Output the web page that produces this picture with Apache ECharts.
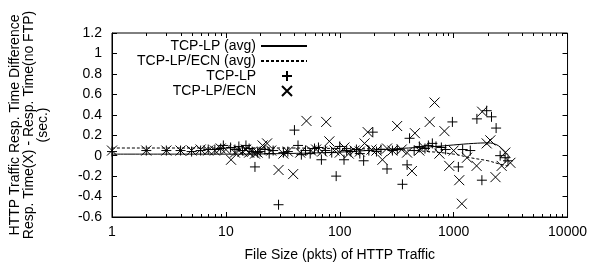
<!DOCTYPE html>
<html>
<head>
<meta charset="utf-8">
<script src="https://cdn.jsdelivr.net/npm/echarts@6/dist/echarts.min.js"></script>
<style>html,body{margin:0;padding:0;background:#fff;}#c{width:590px;height:267px;}</style>
</head>
<body>
<div id="c"></div>
<script>
// ---- data ----
var xTicks = [1, 10, 100, 1000, 10000];
var yTicks = [-0.6, -0.4, -0.2, 0, 0.2, 0.4, 0.6, 0.8, 1, 1.2];

var avgLpX = [1, 3, 10, 30, 100, 200, 400, 700, 1000, 1500, 2000, 2400, 2700, 3000];
var avgLpY = [0.015, 0.015, 0.015, 0.02, 0.035, 0.055, 0.075, 0.09, 0.105, 0.12, 0.125, 0.105, 0.06, 0.01];

var avgEcnX = [1, 10, 30, 100, 300, 600, 1000, 1400, 2000, 2500, 3000];
var avgEcnY = [0.075, 0.075, 0.075, 0.07, 0.06, 0.04, 0.015, -0.02, -0.05, -0.08, -0.10];

var lpX = [1, 2, 3, 4, 5, 6, 7, 8, 9, 9.5, 11, 12, 13, 14, 15, 16, 17, 18, 19, 20, 22, 24, 26, 29, 32, 35, 40, 43, 46, 50, 55, 60, 65, 69, 75, 85, 93, 100, 109, 115, 125, 140, 150, 162, 180, 195, 210, 230, 260, 290, 320, 355, 390, 410, 450, 500, 560, 600, 650, 700, 780, 850, 975, 1100, 1200, 1400, 1600, 1770, 1950, 2150, 2360, 2560, 2830, 3000];
var lpY = [0.04, 0.05, 0.05, 0.05, 0.04, 0.05, 0.06, 0.06, 0.07, 0.10, 0.08, 0.06, 0.09, 0.05, 0.10, 0.07, 0.04, -0.11, 0.03, 0.04, 0.06, 0.02, 0.05, -0.48, 0.03, 0.04, 0.25, 0.10, 0.01, 0.05, 0.02, 0.07, 0.08, -0.04, 0.05, 0.03, -0.20, 0.09, -0.04, 0.05, 0.04, 0.06, 0.02, -0.05, 0.05, 0.23, 0.04, 0.06, -0.13, 0.05, 0.06, -0.28, -0.09, 0.17, 0.05, 0.09, 0.07, 0.10, 0.12, 0.09, 0.08, 0.06, 0.33, -0.11, 0.06, 0.05, 0.36, -0.24, 0.44, 0.38, 0.27, 0.0, -0.02, -0.05];

var ecnX = [1, 2, 3, 4, 5, 6, 7, 8, 9, 10, 11.1, 12, 13, 14, 15, 16, 17, 18, 19, 21, 23, 25, 29, 32, 35, 39, 45, 51, 56, 62, 70, 76, 81, 90, 100, 110, 120, 135, 150, 165, 176, 190, 210, 237, 260, 290, 319, 350, 390, 430, 457, 500, 550, 616, 680, 750, 830, 915, 1000, 1120, 1180, 1310, 1590, 1780, 1950, 2100, 2330, 2640, 2840, 3150];
var ecnY = [0.05, 0.05, 0.05, 0.05, 0.05, 0.06, 0.05, 0.05, 0.07, 0.06, -0.04, 0.03, 0.05, 0.04, 0.06, 0.03, 0.04, 0.02, 0.03, 0.10, 0.12, 0.05, -0.14, 0.02, 0.04, -0.18, 0.03, 0.34, 0.05, 0.06, 0.04, 0.33, 0.14, 0.05, 0.03, 0.08, 0.02, 0.05, 0.04, 0.12, 0.23, 0.06, 0.05, -0.04, 0.07, 0.05, 0.29, 0.06, 0.03, -0.15, 0.22, 0.05, 0.08, 0.33, 0.52, 0.02, 0.24, -0.10, 0.05, -0.24, -0.47, -0.02, -0.10, 0.43, 0.12, 0.15, -0.21, -0.10, 0.03, -0.07];

var names = ['TCP-LP (avg)', 'TCP-LP/ECN (avg)', 'TCP-LP', 'TCP-LP/ECN'];
var xTitle = 'File Size (pkts) of HTTP Traffic';
var yTitle = 'HTTP Traffic Resp. Time Difference\nResp. Time(X) - Resp. Time(no FTP)\n(sec.)';

function zip(a, b) { return a.map(function (v, i) { return [v, b[i]]; }); }

var FONT = 'Liberation Sans';
var txt = { fontFamily: FONT, fontSize: 14, color: '#000' };
var PLUS = 'path://M0,5L10,5M5,0L5,10';
var CROSS = 'path://M0,0L10,10M0,10L10,0';

var chart = echarts.init(document.getElementById('c'), null, { renderer: 'canvas' });

function legendRow(name, top, isLine) {
  var o = {
    data: [name], orient: 'horizontal', align: 'right', top: top,
    right: isLine ? 282 : 297,
    itemWidth: isLine ? 46 : 10, itemHeight: 10,
    padding: 0, selectedMode: false,
    textStyle: Object.assign({}, txt, isLine ? {} : { padding: [0, 21, 0, 0] })
  };
  if (isLine) { o.itemStyle = { opacity: 0 }; }
  return o;
}

var option = {
  animation: false,
  backgroundColor: '#fff',
  textStyle: txt,
  grid: { left: 107, right: 20, top: 33, bottom: 47, show: true, borderColor: '#000', borderWidth: 1, backgroundColor: 'transparent' },
  legend: [
    legendRow(names[0], 39, true),
    legendRow(names[1], 54, true),
    legendRow(names[2], 69, false),
    legendRow(names[3], 84, false)
  ],
  xAxis: [{
    type: 'log', logBase: 10, min: xTicks[0], max: xTicks[xTicks.length - 1],
    name: xTitle, nameLocation: 'middle', nameGap: 31, nameTextStyle: txt,
    axisLine: { show: true, onZero: false, lineStyle: { color: '#000', width: 1 } },
    axisTick: { inside: true, length: 5, lineStyle: { color: '#000' } },
    axisLabel: Object.assign({ margin: 8, formatter: function (v) { return String(Math.round(v)); } }, txt),
    splitLine: { show: false }
  }, {
    type: 'log', logBase: 10, min: xTicks[0], max: xTicks[xTicks.length - 1], position: 'top',
    axisLine: { show: false, onZero: false },
    axisTick: { inside: true, length: 5, lineStyle: { color: '#000' } },
    axisLabel: { show: false }, splitLine: { show: false }
  }],
  yAxis: [{
    type: 'value', min: yTicks[0], max: yTicks[yTicks.length - 1], interval: 0.2,
    name: yTitle, nameLocation: 'middle', nameGap: 62, nameRotate: 90,
    nameTextStyle: Object.assign({ lineHeight: 14, align: 'center' }, txt),
    axisLine: { show: true, onZero: false, lineStyle: { color: '#000', width: 1 } },
    axisTick: { inside: true, length: 5, lineStyle: { color: '#000' } },
    axisLabel: Object.assign({ margin: 10 }, txt),
    splitLine: { show: false }
  }, {
    type: 'value', min: yTicks[0], max: yTicks[yTicks.length - 1], interval: 0.2, position: 'right',
    axisLine: { show: false, onZero: false },
    axisTick: { inside: true, length: 5, lineStyle: { color: '#000' } },
    axisLabel: { show: false }, splitLine: { show: false }
  }],
  series: [
    { name: names[0], type: 'line', data: zip(avgLpX, avgLpY), smooth: 0.4, symbol: 'none', showSymbol: false,
      lineStyle: { color: '#000', width: 1, type: 'solid' }, itemStyle: { color: '#000' }, z: 3 },
    { name: names[1], type: 'line', data: zip(avgEcnX, avgEcnY), smooth: 0.4, symbol: 'none', showSymbol: false,
      lineStyle: { color: '#000', width: 1, type: [3, 2] }, itemStyle: { color: '#000' }, z: 3 },
    { name: names[2], type: 'scatter', data: zip(lpX, lpY), symbol: PLUS, symbolSize: 10,
      itemStyle: { color: '#000', borderColor: '#000', borderWidth: 1, opacity: 1 }, z: 2 },
    { name: names[3], type: 'scatter', data: zip(ecnX, ecnY), symbol: CROSS, symbolSize: 10,
      itemStyle: { color: '#000', borderColor: '#000', borderWidth: 1, opacity: 1 }, z: 2 }
  ]
};
chart.setOption(option);

// minor ticks on the log x axis (2..9 within each decade), positioned through the axis scale
var minorVals = [];
for (var i = 0; i < xTicks.length - 1; i++) {
  for (var m = 2; m <= 9; m++) minorVals.push(xTicks[i] * m);
}
var yBottom = chart.convertToPixel({ yAxisIndex: 0 }, yTicks[0]);
var yTop = chart.convertToPixel({ yAxisIndex: 0 }, yTicks[yTicks.length - 1]);
var g = [];
minorVals.forEach(function (v) {
  var px = Math.round(chart.convertToPixel({ xAxisIndex: 0 }, v)) + 0.5;
  g.push({ type: 'line', silent: true, z: 10, shape: { x1: px, y1: yBottom, x2: px, y2: yBottom - 3 }, style: { stroke: '#000', lineWidth: 1 } });
  g.push({ type: 'line', silent: true, z: 10, shape: { x1: px, y1: yTop, x2: px, y2: yTop + 3 }, style: { stroke: '#000', lineWidth: 1 } });
});
chart.setOption({ graphic: g });
</script>
</body>
</html>
